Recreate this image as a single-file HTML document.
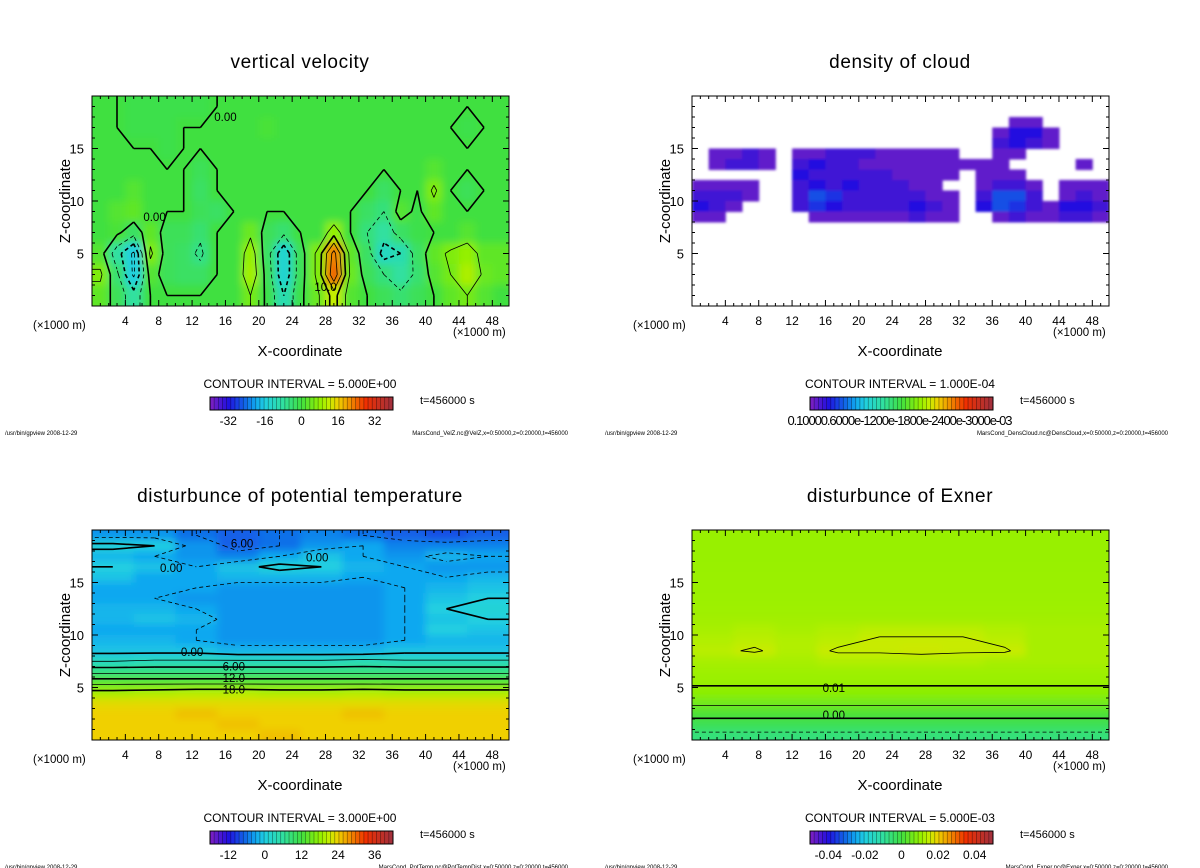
<!DOCTYPE html>
<html><head><meta charset="utf-8">
<style>
html,body{margin:0;padding:0;background:#fff;}
svg{display:block;font-family:"Liberation Sans","DejaVu Sans",sans-serif;}
</style></head>
<body>
<svg id="fig" width="1200" height="868" viewBox="0 0 1200 868" xmlns="http://www.w3.org/2000/svg">
<defs>
<filter id="soft" x="-5%" y="-5%" width="110%" height="110%"><feGaussianBlur stdDeviation="4"/></filter>
<filter id="soft2"><feGaussianBlur stdDeviation="1.2"/></filter>
</defs>
</svg>
<script>
// ---------- data ----------
// vertical velocity: 25 columns (2 km), 10 rows (2 km), rows from z=19 down to z=1
const velZ = [
[0,0,-1,-1,-1,-1,-1,0,0,0,0,0,0,0,0,0,0,0,0,0,0,0,0,0,0],
[0,0,-1,-1,-1,0,0,0,0,0,1,0,0,0,0,0,0,0,0,0,0,0,-1,0,0],
[0,0,0,0,-1,0,0,0,0,0,0,0,0,0,0,0,0,0,0,0,0,0,0,0,0],
[0,0,0,0,0,0,-2,0,0,0,0,0,0,0,0,0,0,0,0,0,2,0,0,0,0],
[0,0,2,0,0,0,-3,0,0,0,0,0,0,0,0,0,0,-3,0,0,6,0,-2,0,0],
[0,2,3,0,0,0,-2,-3,0,0,0,0,0,0,0,0,-3,-5,2,-1,3,0,0,0,0],
[0,1,-3,3,-2,-2,-4,0,0,4,-2,-4,0,0,8,0,-5,-8,-3,-1,0,0,2,0,0],
[2,-8,-16,6,-2,-3,-6,0,0,8,-3,-14,-2,6,22,3,-3,-12,-10,-3,3,6,8,3,3],
[6,-4,-16,2,-2,-3,-3,0,0,9,-2,-14,-2,6,24,4,-2,-5,-8,-4,2,5,10,4,3],
[3,-2,-8,0,0,0,0,0,0,5,-1,-10,-1,4,12,2,0,-2,-4,-2,0,3,5,2,0]
];
// density of cloud (units 1e-4): 25 columns (2 km), rows z=17.5 .. 8.5 (1 km); 0 = no cloud
const densCloud = [
[0,0,0,0,0,0,0,0,0,0,0,0,0,0,0,0,0,0,0,1,1,0,0,0,0],
[0,0,0,0,0,0,0,0,0,0,0,0,0,0,0,0,0,0,1,3,3,1,0,0,0],
[0,0,0,0,0,0,0,0,0,0,0,0,0,0,0,0,0,0,2,3,2,1,0,0,0],
[0,1,1,2,1,0,1,1,2,2,2,1,1,1,1,1,0,0,1,1,0,0,0,0,0],
[0,1,2,2,1,0,2,3,2,2,1,1,1,1,1,1,1,1,1,0,0,0,0,1,0],
[0,0,0,0,0,0,3,2,2,2,2,2,1,1,1,1,0,1,1,1,0,0,0,0,0],
[1,1,1,1,0,0,2,3,2,3,2,2,2,1,1,0,0,1,2,2,1,0,1,1,1],
[2,2,2,1,0,0,2,5,4,2,2,2,2,2,1,1,0,2,5,5,2,0,1,2,1],
[3,2,1,0,0,0,2,4,3,2,2,2,2,3,2,1,0,3,5,4,2,1,3,3,2],
[1,1,0,0,0,0,0,1,1,1,1,1,1,2,1,1,0,0,1,2,1,1,2,2,1]
];
// potential temperature disturbance: 10 columns (5 km), rows z=19.5 .. 0.5 (1 km)
const potTemp = [
[-4,-4,-6,-7,-6,-5,-6,-7,-8,-7],
[1,0,-4,-7,-6,-4,-3,-5,-5,-5],
[-2,-3,-4,-5,-3,-1,-3,-4,-2,-3],
[0,-1,-3,-1,1,0,-2,-3,-4,-4],
[-1,-3,-3,-2,-2,-2,-3,-3,-3,-2],
[-3,-3,-3,-4,-4,-4,-4,-3,-2,-1],
[-3,-3,-4,-4,-4,-4,-4,-3,-1,0],
[-2,-2,-3,-4,-4,-4,-4,-3,0,1],
[-2,-1,-2,-4,-4,-4,-4,-3,-1,0],
[-3,-3,-3,-4,-4,-4,-4,-3,0,-1],
[-2,-2,-3,-4,-4,-4,-4,-3,-2,-2],
[-1,-1,-1,-2,-2,-2,-2,-1,-1,-1],
[3,3.5,3.5,3.5,3.5,3.5,4,3.5,3.5,3.5],
[8,8,8,8,8,8,8,8,8,8],
[14,14,14,14,14,14,14,14,14,14],
[19,19.5,20,20,19.5,19.5,20,19.5,19.5,19.5],
[23,23,23,23,23,23,23,23,23,23],
[24,24,25,24,24,24,25,24,24,24],
[24,24,24,25,24,24,24,24,24,24],
[24,24,24,24,25,24,24,24,24,24]
];
// Exner disturbance (units 1e-3): 10 columns (5 km), rows z=19.5 .. 0.5 (1 km)
const exner = [
[10.4,10.4,10.4,10.4,10.4,10.4,10.4,10.4,10.4,10.4],
[10.4,10.4,10.4,10.4,10.4,10.4,10.4,10.4,10.4,10.4],
[10.4,10.4,10.4,10.4,10.4,10.4,10.4,10.4,10.4,10.4],
[10.5,10.5,10.5,10.5,10.5,10.5,10.5,10.5,10.5,10.5],
[10.6,10.6,10.6,10.6,10.6,10.6,10.6,10.6,10.6,10.6],
[10.7,10.7,10.7,10.7,10.7,10.7,10.7,10.7,10.7,10.7],
[10.8,10.8,10.8,10.8,10.8,10.8,10.8,10.8,10.8,10.8],
[11,11,11,11,11,11,11,11,11,11],
[11.5,11.5,11.5,11.5,11.5,11.5,11.5,11.5,11.5,11.5],
[12,13,12,13,14,14,14,13,12,12],
[13,14,13,14,15.5,15.5,15.5,14,12,12],
[14,15.5,13,15.5,15.5,16,15.5,15.5,12,12],
[12,12,12,13,13,13,13,12,12,12],
[11,11,11,11,11,11,11,11,11,11],
[10.5,10.5,10.5,10.5,10.5,10.5,10.5,10.5,10.5,10.5],
[9,9,9,9,9,9,9,9,9,9],
[6,6,6,6,6,6,6,6,6,6],
[1.5,1.5,1.5,1.5,1.5,1.5,1.5,1.5,1.5,1.5],
[-2,-2,-2,-2,-2,-2,-2,-2,-2,-2],
[-6,-6,-6,-6,-6,-6,-6,-6,-6,-6]
];
const xTicks = [4,8,12,16,20,24,28,32,36,40,44,48];
const zTicks = [5,10,15];
const velLevels = [-15,-10,-5,0,5,10,15,20];
const potLevels = [-6,-3,0,3,6,9,12,15,18];
const exnLevels = [-5,0,5,10,15];
const velCbarLabels = [-32,-16,0,16,32];
const potCbarLabels = [-12,0,12,24,36];
const exnCbarValues = [-40,-20,0,20,40];
const exnCbarLabels = ['-0.04','-0.02','0','0.02','0.04'];

// ---------- drawing ----------
const NS='http://www.w3.org/2000/svg';
const svg=document.getElementById('fig');
function mk(tag,attrs,parent){const e=document.createElementNS(NS,tag);for(const k in attrs)e.setAttribute(k,attrs[k]);(parent||svg).appendChild(e);return e;}
const stops=[[0,[128,32,192]],[0.1,[32,16,224]],[0.2,[16,112,232]],[0.25,[16,168,240]],[0.3,[32,208,224]],[0.4,[48,224,160]],[0.5,[64,224,64]],[0.6,[148,240,0]],[0.65,[196,238,0]],[0.7,[240,208,0]],[0.75,[240,160,0]],[0.85,[240,48,0]],[1,[160,48,64]]];
function cmap(t){t=Math.max(0,Math.min(1,t));for(let i=1;i<stops.length;i++){if(t<=stops[i][0]){const a=stops[i-1],b=stops[i];const f=(t-a[0])/(b[0]-a[0]);return 'rgb('+a[1].map((c,k)=>Math.round(c+(b[1][k]-c)*f)).join(',')+')';}}return 'rgb(160,48,64)';}

const PW=417,PH=210;
function panel(cfg){
  const ox=cfg.ox,oy=cfg.oy,L=ox+92,T=oy+96,B=oy+306;
  const X=km=>L+km*PW/50, Z=z=>B-z*PH/20;
  const g=mk('g',{});
  
  
  const cid='clip'+cfg.name;
  const cp=mk('clipPath',{id:cid},g);mk('rect',{x:L,y:T,width:PW,height:PH},cp);
  const hm=mk('g',{'clip-path':'url(#'+cid+')'},g);
  
  
  if(cfg.bg)mk('rect',{x:L,y:T,width:PW,height:PH,fill:cfg.bg},hm);
  const inner=mk('g',{filter:cfg.cloud?'url(#soft2)':'url(#soft)'},hm);
  const grid=cfg.grid,nr=grid.length,nc=grid[0].length,dx=50/nc,dz=cfg.dz;
  for(let r=0;r<nr;r++)for(let c=0;c<nc;c++){
    const v=grid[r][c];if(cfg.cloud&&v<=0)continue;
    const zt=cfg.zTop-r*dz;
    let x0=X(c*dx),x1=X((c+1)*dx),y0=Z(zt),y1=Z(zt-dz);
    if(!cfg.cloud){if(c===0)x0-=10;if(c===nc-1)x1+=10;if(r===0)y0-=10;if(r===nr-1)y1+=10;}
    const cell=mk('rect',{x:x0,y:y0,width:x1-x0+0.5,height:y1-y0+0.5,fill:cmap((v-cfg.vmin)/(cfg.vmax-cfg.vmin))},inner);
    
    
  }
  // contours via marching squares on padded cell-centre grid
  if(cfg.levels){
    const cg=mk('g',{'clip-path':'url(#'+cid+')',fill:'none',stroke:'#000'},g);
    
    
    const xs=[0];for(let c=0;c<nc;c++)xs.push((c+0.5)*dx);xs.push(50);
    const zs=[cfg.zTop];for(let r=0;r<nr;r++)zs.push(cfg.zTop-(r+0.5)*dz);zs.push(cfg.zTop-nr*dz);
    const G=[];for(let r=0;r<nr+2;r++){const rr=Math.min(nr-1,Math.max(0,r-1));const row=[];for(let c=0;c<nc+2;c++){const cc=Math.min(nc-1,Math.max(0,c-1));row.push(grid[rr][cc]);}G.push(row);}
    const lerp=(arr,f)=>{const i=Math.floor(f);if(i>=arr.length-1)return arr[arr.length-1];return arr[i]+(arr[i+1]-arr[i])*(f-i);};
    cfg.levels.forEach(lv=>{
      let d='';
      for(let r=0;r<nr+1;r++)for(let c=0;c<nc+1;c++){
        const p=[[c,r,G[r][c]],[c+1,r,G[r][c+1]],[c+1,r+1,G[r+1][c+1]],[c,r+1,G[r+1][c]]];
        const pts=[];
        for(let k=0;k<4;k++){const a=p[k],b=p[(k+1)%4];
          if((a[2]>=lv)!==(b[2]>=lv)){const f=(lv-a[2])/(b[2]-a[2]);
            const cc=a[0]+(b[0]-a[0])*f, rr=a[1]+(b[1]-a[1])*f;
            pts.push([X(lerp(xs,cc)),Z(lerp(zs,rr))]);}}
        for(let k=0;k+1<pts.length;k+=2)d+='M'+pts[k][0].toFixed(1)+' '+pts[k][1].toFixed(1)+'L'+pts[k+1][0].toFixed(1)+' '+pts[k+1][1].toFixed(1);
      }
      if(d){const pth=mk('path',{d:d,'stroke-width':(cfg.thickAll&&cfg.thickAll.includes(lv))?1.6:0.8,'stroke-dasharray':lv<0?'4 3':'none'},cg);
        
        }
    });
  }
  // frame & ticks
  const fr=mk('rect',{x:L,y:T,width:PW,height:PH,fill:'none',stroke:'#000','stroke-width':1},g);
  
  
  let td='';
  for(let k=1;k<50;k++){const len=k%4===0?6:3;td+='M'+X(k)+' '+B+'v'+(-len)+'M'+X(k)+' '+T+'v'+len;}
  for(let k=1;k<20;k++){const len=k%5===0?6:3;td+='M'+L+' '+Z(k)+'h'+len+'M'+(L+PW)+' '+Z(k)+'h'+(-len);}
  const tk=mk('path',{d:td,stroke:'#000','stroke-width':1},g);
  
  
  function txt(s,x,y,size,anchor,extra){const t=mk('text',Object.assign({x:x,y:y,'font-size':size,'text-anchor':anchor||'start',fill:'#000'},extra||{}),g);t.textContent=s;return t;}
  let t;
  t=txt(cfg.title,ox+300,oy+68,19,'middle',{'letter-spacing':'0.6'});
  xTicks.forEach(k=>{t=txt(String(k),X(k),oy+325,12,'middle');});
  zTicks.forEach(k=>{t=txt(String(k),L-8,Z(k)+5,13,'end');});
  t=txt('(×1000 m)',ox+33,oy+329,11.5);
  t=txt('(×1000 m)',ox+453,oy+336,11.5);
  t=txt('X-coordinate',ox+300,oy+356,15,'middle');
  t=txt('Z-coordinate',0,0,15,'middle',{transform:'translate('+(ox+70)+','+(oy+201)+') rotate(-90)'});
  t=txt(cfg.ci,ox+300,oy+388,12,'middle');
  t=txt('t=456000 s',ox+420,oy+404,11);
  t=txt('/usr/bin/gpview   2008-12-29',ox+5,oy+435,6);
  t=txt(cfg.footer,ox+568,oy+435,6,'end');
  // colorbar
  const cb=mk('g',{},g);
  
  
  const cx0=ox+210,cw=183,cy=oy+397,ch=13,n=44;
  for(let i=0;i<n;i++){const s=mk('rect',{x:cx0+i*cw/n,y:cy,width:cw/n+0.3,height:ch,fill:cmap((i+0.5)/n)},cb);
    
    mk('line',{x1:cx0+i*cw/n,x2:cx0+i*cw/n,y1:cy,y2:cy+ch,stroke:'#000','stroke-opacity':0.45,'stroke-width':0.7},cb);}
  mk('rect',{x:cx0,y:cy,width:cw,height:ch,fill:'none',stroke:'#000'},cb);
  if(cfg.cbText){t=txt(cfg.cbText,ox+300,oy+425,13,'middle',{'textLength':225});}
  else cfg.cbVals.forEach((v,i)=>{t=txt(cfg.cbLabels[i],cx0+(v-cfg.vmin)/(cfg.vmax-cfg.vmin)*cw,oy+425,12,'middle');});
  // contour labels
  (cfg.clabels||[]).forEach(cl=>{t=txt(cl[0],X(cl[1]),Z(cl[2])+4,11.5,'middle');});
  return g;
}
panel({name:'vertical-velocity',ox:0,oy:0,title:'vertical velocity',grid:velZ,dz:2,zTop:20,vmin:-40,vmax:40,bg:'rgb(64,224,64)',levels:velLevels,thickAll:[0,10,-10],ci:'CONTOUR INTERVAL = 5.000E+00',cbVals:velCbarLabels,cbLabels:velCbarLabels.map(String),footer:'MarsCond_VelZ.nc@VelZ,x=0:50000,z=0:20000,t=456000',clabels:[['0.00',7.5,8.5],['10.0',28,1.8],['0.00',16,18]]});
panel({name:'density-of-cloud',ox:600,oy:0,title:'density of cloud',grid:densCloud,dz:1,zTop:18,vmin:0,vmax:30,cloud:true,ci:'CONTOUR INTERVAL = 1.000E-04',cbText:'0.10000.6000e-1200e-1800e-2400e-3000e-03',footer:'MarsCond_DensCloud.nc@DensCloud,x=0:50000,z=0:20000,t=456000'});
panel({name:'potential-temperature',ox:0,oy:434,title:'disturbunce of potential temperature',grid:potTemp,dz:1,zTop:20,vmin:-18,vmax:42,bg:'rgb(16,168,240)',levels:potLevels,thickAll:[0,6,12,18],ci:'CONTOUR INTERVAL = 3.000E+00',cbVals:potCbarLabels,cbLabels:potCbarLabels.map(String),footer:'MarsCond_PotTemp.nc@PotTempDist,x=0:50000,z=0:20000,t=456000',clabels:[['6.00',17,7],['12.0',17,5.9],['18.0',17,4.8],['0.00',12,8.4],['0.00',9.5,16.4],['6.00',18,18.7],['0.00',27,17.4]]});
panel({name:'exner',ox:600,oy:434,title:'disturbunce of Exner',grid:exner,dz:1,zTop:20,vmin:-50,vmax:50,bg:'rgb(150,240,0)',levels:exnLevels,thickAll:[0,10],ci:'CONTOUR INTERVAL = 5.000E-03',cbVals:exnCbarValues,cbLabels:exnCbarLabels,footer:'MarsCond_Exner.nc@Exner,x=0:50000,z=0:20000,t=456000',clabels:[['0.01',17,4.95],['0.00',17,2.4]]});
</script>
</body></html>
